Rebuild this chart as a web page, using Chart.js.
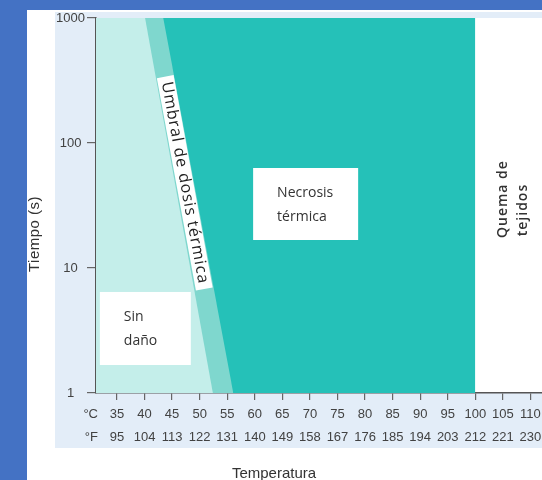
<!DOCTYPE html>
<html lang="es">
<head>
<meta charset="utf-8">
<title>Umbral de dosis térmica</title>
<script src="https://cdn.jsdelivr.net/npm/chart.js@4.4.1/dist/chart.umd.min.js"></script>
<style>
  html, body { margin: 0; padding: 0; }
  body { width: 542px; height: 480px; overflow: hidden; position: relative; background: #fff; }
  .borde-izq { position: absolute; left: 0; top: 0; width: 27px; height: 480px; background: #4472c4; z-index: 3; }
  .borde-sup { position: absolute; left: 0; top: 0; width: 542px; height: 10px; background: #4472c4; z-index: 3; }
  .panel { position: absolute; left: 55px; top: 12px; width: 487px; height: 436px; background: #e3edf8; }
  #contenedor { position: absolute; left: 0; top: 0; width: 558px; height: 490px; z-index: 2; }
</style>
</head>
<body>
<div class="borde-izq"></div>
<div class="borde-sup"></div>
<div class="panel"></div>
<div id="contenedor"><canvas id="grafico"></canvas></div>
<script>
// Valores
const tiempoLimites = [1000, 1];        // s (arriba, abajo)
const umbralInicio = [40.1, 52.4];      // °C donde acaba "sin daño" a 1000 s y a 1 s
const umbralFin = [43.4, 56.1];         // °C donde empieza la necrosis a 1000 s y a 1 s
const limiteQuema = [100, 100];         // °C, desde aquí quema de tejidos
const ticksCelsius = [35, 40, 45, 50, 55, 60, 65, 70, 75, 80, 85, 90, 95, 100, 105, 110];
const ticksFahrenheit = [95, 104, 113, 122, 131, 140, 149, 158, 167, 176, 185, 194, 203, 212, 221, 230];
const ticksTiempo = [1, 10, 100, 1000];
const tempMin = 31.2;
const tempMax = 115;

const colorClaro = '#c4eeea';
const colorUmbral = '#7fd7ce';
const colorNecrosis = '#25c1b8';
const colorTexto = '#424242';
const fuenteEje = 'Liberation Sans, Arial, sans-serif';
const fuenteCaja = 'Open Sans, sans-serif';

function zona(bordes) {
  return [
    { x: tempMin, y: tiempoLimites[0] },
    { x: bordes[0], y: tiempoLimites[0] },
    { x: bordes[1], y: tiempoLimites[1] }
  ];
}

function caja(ctx, sx, sy, c) {
  const x0 = sx.getPixelForValue(c.x0), x1 = sx.getPixelForValue(c.x1);
  const y0 = sy.getPixelForValue(c.y0), y1 = sy.getPixelForValue(c.y1);
  ctx.fillStyle = '#fff';
  ctx.fillRect(x0, y0, x1 - x0, y1 - y0);
  ctx.fillStyle = '#333';
  ctx.font = '14px ' + fuenteCaja;
  ctx.textAlign = 'left';
  ctx.textBaseline = 'middle';
  c.lineas.forEach((t, i) => ctx.fillText(t, x0 + 24, y0 + 25 + i * 24));
}

const textos = {
  id: 'textos',
  beforeDraw(chart) {
    const { ctx, chartArea: a } = chart;
    ctx.save();
    ctx.fillStyle = '#fff';
    ctx.fillRect(a.left, a.top, a.right - a.left, a.bottom - a.top);
    ctx.restore();
  },
  afterDatasetsDraw(chart) {
    const { ctx, scales: { x, y } } = chart;
    ctx.save();
    caja(ctx, x, y, { x0: 31.9, x1: 48.4, y0: 6.43, y1: 1.675, lineas: ['Sin', 'daño'] });
    caja(ctx, x, y, { x0: 59.7, x1: 78.75, y0: 63.1, y1: 16.75, lineas: ['Necrosis', 'térmica'] });

    // etiqueta inclinada sobre la banda del umbral
    const ax = x.getPixelForValue((umbralInicio[0] + umbralFin[0]) / 2);
    const ay = y.getPixelForValue(tiempoLimites[0]);
    const bx = x.getPixelForValue((umbralInicio[1] + umbralFin[1]) / 2);
    const by = y.getPixelForValue(tiempoLimites[1]);
    const ang = Math.atan2(by - ay, bx - ax);
    ctx.translate(x.getPixelForValue(47.3), y.getPixelForValue(48));
    ctx.rotate(ang);
    ctx.fillStyle = '#fff';
    ctx.fillRect(-108, -8.5, 216, 17);
    ctx.fillStyle = '#222';
    ctx.font = '16px ' + fuenteCaja;
    ctx.letterSpacing = '1px';
    ctx.textAlign = 'center';
    ctx.textBaseline = 'middle';
    ctx.fillText('Umbral de dosis térmica', 0, 0);
    ctx.restore();

    // quema de tejidos
    ctx.save();
    ctx.fillStyle = '#333';
    ctx.font = '600 14px ' + fuenteCaja;
    ctx.letterSpacing = '1px';
    ctx.textAlign = 'center';
    ctx.textBaseline = 'middle';
    [['Quema de', 105.0, 35.6], ['tejidos', 108.6, 29.1]].forEach(([t, tx, ty]) => {
      ctx.save();
      ctx.translate(x.getPixelForValue(tx), y.getPixelForValue(ty));
      ctx.rotate(-Math.PI / 2);
      ctx.fillText(t, 0, 0);
      ctx.restore();
    });
    ctx.restore();
  },
  afterDraw(chart) {
    const { ctx, scales: { x } } = chart;
    ctx.save();
    ctx.fillStyle = colorTexto;
    ctx.font = '13px ' + fuenteEje;
    ctx.textAlign = 'right';
    ctx.textBaseline = 'middle';
    const fila = x.top + 7 + 3 + 11.5;
    ctx.fillText('°C', 98, fila);
    ctx.fillText('°F', 98, fila + 23);

    ctx.fillStyle = '#333';
    ctx.font = '15px ' + fuenteEje;
    ctx.textAlign = 'center';
    ctx.fillText('Temperatura', 274, 474);
    ctx.letterSpacing = '0.5px';
    ctx.translate(35, 234);
    ctx.rotate(-Math.PI / 2);
    ctx.fillText('Tiempo (s)', 0, 0);
    ctx.restore();
  }
};

const estiloZona = { pointRadius: 0, borderWidth: 0, tension: 0, fill: 'start' };

new Chart(document.getElementById('grafico'), {
  type: 'line',
  data: {
    datasets: [
      { label: 'Sin daño', data: zona(umbralInicio), backgroundColor: colorClaro, ...estiloZona },
      { label: 'Umbral de dosis térmica', data: zona(umbralFin), backgroundColor: colorUmbral, ...estiloZona },
      { label: 'Necrosis térmica', data: zona(limiteQuema), backgroundColor: colorNecrosis, ...estiloZona }
    ]
  },
  options: {
    responsive: true,
    maintainAspectRatio: false,
    animation: false,
    events: [],
    layout: { padding: { top: 18, left: 0, right: 0, bottom: 0 } },
    plugins: { legend: { display: false }, tooltip: { enabled: false } },
    scales: {
      x: {
        type: 'linear',
        min: tempMin,
        max: tempMax,
        afterFit(scale) { scale.height = 97; },
        afterBuildTicks(scale) { scale.ticks = ticksCelsius.map(v => ({ value: v })); },
        ticks: {
          autoSkip: false,
          maxRotation: 0,
          padding: 3,
          color: colorTexto,
          font: { family: fuenteEje, size: 13, lineHeight: 23 / 13 },
          callback: (v) => {
            const i = ticksCelsius.indexOf(v);
            return [String(v), String(ticksFahrenheit[i])];
          }
        },
        grid: { drawOnChartArea: false, tickLength: 7, color: '#666', lineWidth: 1.2 },
        border: { color: '#555', width: 1.5 }
      },
      y: {
        type: 'logarithmic',
        min: tiempoLimites[1],
        max: tiempoLimites[0],
        afterFit(scale) { scale.width = 96; },
        afterBuildTicks(scale) { scale.ticks = ticksTiempo.map(v => ({ value: v })); },
        ticks: {
          padding: 2,
          crossAlign: 'center',
          color: colorTexto,
          font: { family: fuenteEje, size: 13 },
          callback: (v) => String(v)
        },
        grid: { drawOnChartArea: false, tickLength: 9, color: '#666', lineWidth: 1.2 },
        border: { color: '#555', width: 1.5 }
      }
    }
  },
  plugins: [textos]
});
</script>
</body>
</html>
